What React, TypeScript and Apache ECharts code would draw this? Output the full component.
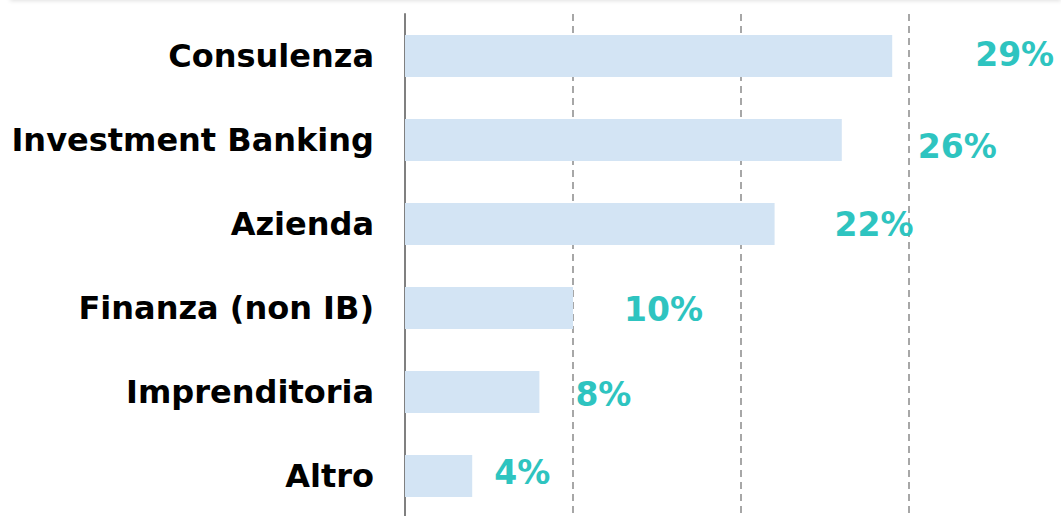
import React, { useEffect, useRef } from "react";
import * as echarts from "echarts";

const categories = ["Consulenza", "Investment Banking", "Azienda", "Finanza (non IB)", "Imprenditoria", "Altro"];
const values = [29, 26, 22, 10, 8, 4];
const labelOffsets = [[83, -2], [76, 6], [60, 0], [51, 1], [36, 2], [22, -4]];

export default function App() {
  const ref = useRef<HTMLDivElement>(null);
  useEffect(() => {
    const chart = echarts.init(ref.current!, null, { renderer: "svg" });
    chart.setOption({
      animation: false,
      grid: { left: 405, top: 14, width: 672, height: 504, containLabel: false, outerBoundsMode: "none" },
      xAxis: {
        type: "value",
        min: 0,
        max: 40,
        interval: 10,
        axisLabel: { show: false },
        axisLine: { show: false },
        axisTick: { show: false },
        splitLine: { show: true, lineStyle: { color: "#8a8a8a", type: [7, 5], width: 1.5 } },
      },
      yAxis: {
        type: "category",
        inverse: true,
        data: categories,
        axisLine: { show: true, lineStyle: { color: "#808080", width: 2 } },
        axisTick: { show: false },
        axisLabel: {
          color: "#000",
          fontFamily: "DejaVu Sans",
          fontWeight: "bold",
          fontSize: 32,
          margin: 31,
        },
      },
      series: [
        {
          type: "bar",
          data: values.map((v, i) => ({
            value: v,
            label: { offset: labelOffsets[i] },
          })),
          barWidth: "50%",
          itemStyle: { color: "#d3e4f4" },
          label: {
            show: true,
            position: "right",
            distance: 0,
            formatter: "{c}%",
            color: "#2ec4c0",
            fontFamily: "DejaVu Sans",
            fontWeight: "bold",
            fontSize: 33,
          },
        },
      ],
    });
    return () => chart.dispose();
  }, []);
  return (
    <div style={{ position: "fixed", left: 0, top: 0, width: 1061, height: 516, background: "#fff", overflow: "hidden" }}>
      <div style={{ position: "absolute", left: 10, right: 0, top: -10, height: 10, boxShadow: "0 1px 4px rgba(0,0,0,0.12)" }} />
      <div ref={ref} style={{ width: 1061, height: 516 }} />
    </div>
  );
}
